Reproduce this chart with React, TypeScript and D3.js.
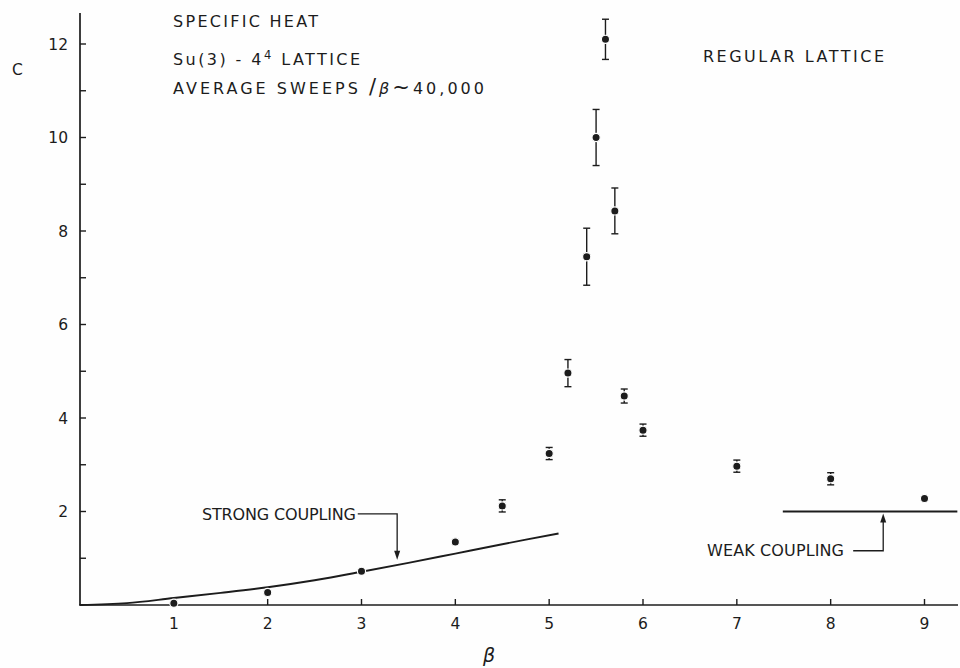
import React from "react";
import * as d3 from "d3";

const betaValues = [1, 2, 3, 4, 4.5, 5, 5.2, 5.4, 5.5, 5.6, 5.7, 5.8, 6, 7, 8, 9];
const heatValues = [0.04, 0.27, 0.72, 1.35, 2.12, 3.24, 4.96, 7.45, 10.0, 12.1, 8.43, 4.47, 3.74, 2.97, 2.7, 2.28];
const heatErrors = [0, 0, 0, 0, 0.13, 0.13, 0.29, 0.61, 0.6, 0.43, 0.49, 0.15, 0.13, 0.13, 0.13, 0];

// strong coupling expansion curve
const strongBeta = [0, 0.5, 1, 1.5, 2, 2.5, 3, 3.5, 4, 4.5, 5.1];
const strongHeat = [0, 0.04, 0.15, 0.26, 0.38, 0.53, 0.71, 0.9, 1.1, 1.3, 1.53];

// weak coupling limit
const weakBeta = [7.49, 9.35];
const weakHeat = [2.0, 2.0];

const xTicks = [1, 2, 3, 4, 5, 6, 7, 8, 9];
const yTicks = [2, 4, 6, 8, 10, 12];
const yMinorTicks = [1, 3, 5, 7, 9, 11];

const ink = "#1c1c1c";
const paper = "#fefefe";
const font = "'DejaVu Sans', sans-serif";

export default function App() {
  const width = 960;
  const height = 668;

  const x = d3.scaleLinear().domain([0, 9]).range([80, 924.5]);
  const y = d3.scaleLinear().domain([0, 12]).range([605, 44]);

  const points = betaValues.map((b, i) => ({ b, c: heatValues[i], e: heatErrors[i] }));
  const strong = strongBeta.map((b, i) => [b, strongHeat[i]] as [number, number]);
  const weak = weakBeta.map((b, i) => [b, weakHeat[i]] as [number, number]);

  const line = d3
    .line<[number, number]>()
    .x((d) => x(d[0]))
    .y((d) => y(d[1]))
    .curve(d3.curveCatmullRom.alpha(0.5));

  // annotation leaders, in data coords
  const strongLeader = { x0: 2.96, x1: 3.38, yTop: 1.95, yTip: 0.97 };
  const weakLeader = { x0: 8.24, x1: 8.56, yBot: 1.16, yTip: 2.0 };

  const sx = x(strongLeader.x1);
  const sTip = y(strongLeader.yTip);
  const wx = x(weakLeader.x1);
  const wTip = y(weakLeader.yTip) + 2;

  return (
    <svg
      width={width}
      height={height}
      style={{ position: "absolute", left: 0, top: 0, background: paper }}
    >
      {/* axes */}
      <line x1={x(0)} x2={x(0)} y1={y(0)} y2={13} stroke={ink} strokeWidth={1.7} />
      <line x1={x(0) - 1} x2={958} y1={y(0)} y2={y(0)} stroke={ink} strokeWidth={1.7} />

      {yTicks.map((t) => (
        <g key={"y" + t}>
          <line x1={x(0)} x2={x(0) + 6} y1={y(t)} y2={y(t)} stroke={ink} strokeWidth={1.4} />
          <text x={68} y={y(t) + 5.5} textAnchor="end" fontFamily={font} fontSize={15.5} fill={ink}>
            {t}
          </text>
        </g>
      ))}
      {yMinorTicks.map((t) => (
        <line key={"ym" + t} x1={x(0)} x2={x(0) + 6} y1={y(t)} y2={y(t)} stroke={ink} strokeWidth={1.4} />
      ))}
      {xTicks.map((t) => (
        <g key={"x" + t}>
          <line x1={x(t)} x2={x(t)} y1={y(0)} y2={y(0) - 6} stroke={ink} strokeWidth={1.4} />
          <text x={x(t)} y={629} textAnchor="middle" fontFamily={font} fontSize={15.5} fill={ink}>
            {t}
          </text>
        </g>
      ))}

      {/* axis titles */}
      <text x={12} y={75} fontFamily={font} fontSize={15.5} fill={ink}>
        C
      </text>
      <text x={489} y={662} textAnchor="middle" fontFamily={font} fontSize={19} fontStyle="italic" fill={ink}>
        β
      </text>

      {/* curves */}
      <path d={line(strong) || ""} fill="none" stroke={ink} strokeWidth={1.9} />
      <path d={line(weak) || ""} fill="none" stroke={ink} strokeWidth={1.9} />

      {/* data with error bars */}
      {points.map((p, i) => (
        <g key={"p" + i}>
          {p.e > 0 && (
            <g stroke={ink} strokeWidth={1.4}>
              <line x1={x(p.b)} x2={x(p.b)} y1={y(p.c - p.e)} y2={y(p.c + p.e)} />
              <line x1={x(p.b) - 3.5} x2={x(p.b) + 3.5} y1={y(p.c - p.e)} y2={y(p.c - p.e)} />
              <line x1={x(p.b) - 3.5} x2={x(p.b) + 3.5} y1={y(p.c + p.e)} y2={y(p.c + p.e)} />
            </g>
          )}
          <circle cx={x(p.b)} cy={y(p.c)} r={4.1} fill={ink} stroke={paper} strokeWidth={1.2} />
        </g>
      ))}

      {/* annotations */}
      <g fontFamily={font} fontSize={16} fill={ink}>
        <text x={173} y={26.5} textLength={145} lengthAdjust="spacing">
          SPECIFIC HEAT
        </text>
        <text x={173} y={65} textLength={187} lengthAdjust="spacing">
          Su(3) - 4<tspan dy={-6} fontSize={11.5}>4</tspan>
          <tspan dy={6}> LATTICE</tspan>
        </text>
        <text x={173} y={94} textLength={311} lengthAdjust="spacing">
          AVERAGE SWEEPS <tspan fontSize={21}>/</tspan>
          <tspan fontStyle="italic">β</tspan>
          <tspan fontSize={21}>~</tspan>40,000
        </text>
        <text x={703} y={62} textLength={181} lengthAdjust="spacing">
          REGULAR LATTICE
        </text>
        <text x={202} y={520} textLength={154} lengthAdjust="spacing">
          STRONG COUPLING
        </text>
        <text x={707} y={556} textLength={137} lengthAdjust="spacing">
          WEAK COUPLING
        </text>
      </g>

      <g stroke={ink} strokeWidth={1.3} fill="none">
        <polyline
          points={`${x(strongLeader.x0)},${y(strongLeader.yTop)} ${sx},${y(strongLeader.yTop)} ${sx},${sTip - 7}`}
        />
        <polyline
          points={`${x(weakLeader.x0)},${y(weakLeader.yBot)} ${wx},${y(weakLeader.yBot)} ${wx},${wTip + 7}`}
        />
      </g>
      <path d={`M${sx - 3},${sTip - 9} L${sx + 3},${sTip - 9} L${sx},${sTip} Z`} fill={ink} />
      <path d={`M${wx - 3},${wTip + 9} L${wx + 3},${wTip + 9} L${wx},${wTip} Z`} fill={ink} />
    </svg>
  );
}
